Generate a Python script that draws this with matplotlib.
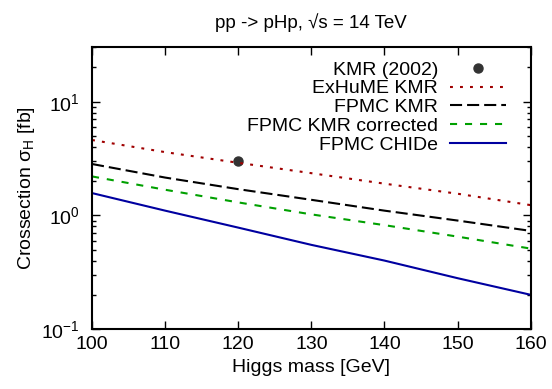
import matplotlib
matplotlib.use('Agg')
import matplotlib.pyplot as plt
import numpy as np

plt.rcParams['font.family'] = ['Liberation Sans', 'DejaVu Sans']
plt.rcParams['mathtext.fontset'] = 'custom'
plt.rcParams['mathtext.rm'] = 'Liberation Sans'
plt.rcParams['mathtext.it'] = 'Liberation Sans'
plt.rcParams['axes.unicode_minus'] = False

# data
mass = [100, 110, 120, 130, 140, 150, 160]
exhume_kmr = [4.6, 3.6, 2.9, 2.35, 1.9, 1.55, 1.23]
fpmc_kmr = [2.83, 2.15, 1.7, 1.37, 1.1, 0.9, 0.73]
fpmc_kmr_corr = [2.2, 1.68, 1.3, 1.02, 0.82, 0.65, 0.51]
fpmc_chide = [1.57, 1.1, 0.78, 0.55, 0.4, 0.28, 0.20]
kmr_mass = [120]
kmr_xsec = [3.0]

fs = 14
fig = plt.figure(figsize=(5.52, 3.89), dpi=100)
ax = fig.add_axes([0.1667, 0.1542, 0.7947, 0.7238])

ax.plot(kmr_mass, kmr_xsec, 'o', color='#333333', markersize=6.5, label='KMR (2002)')
ax.plot(mass, exhume_kmr, color='#a00000', lw=1.5, linestyle=(0, (1.4, 3.4)), label='ExHuME KMR')
ax.plot(mass, fpmc_kmr, color='black', lw=1.5, linestyle=(0, (5.8, 2.4)), label='FPMC KMR')
ax.plot(mass, fpmc_kmr_corr, color='#00a000', lw=1.5, linestyle=(0, (3.4, 3.8)), label='FPMC KMR corrected')
ax.plot(mass, fpmc_chide, color='#0000a0', lw=1.5, label='FPMC CHIDe')

ax.set_yscale('log')
ax.set_xlim(100, 160)
ax.set_ylim(0.1, 30)
ax.set_xticks([100, 110, 120, 130, 140, 150, 160])

for s in ax.spines.values():
    s.set_linewidth(1.5)
ax.tick_params(which='both', direction='in', top=True, right=True, labelsize=fs, width=1.0)
ax.tick_params(which='major', length=6)
ax.tick_params(which='minor', length=3, top=False)
ax.tick_params(axis='x', pad=5)
ax.tick_params(axis='y', pad=9)

ax.set_xlabel('Higgs mass [GeV]', fontsize=fs, labelpad=4)
ax.set_ylabel(r'Crossection $\sigma_\mathregular{H}$ [fb]', fontsize=fs, labelpad=3)
ax.set_title('pp -> pHp, \u221as = 14 TeV', fontsize=13.5, pad=14)

leg = ax.legend(loc='upper right', bbox_to_anchor=(0.9437, 0.952), frameon=False,
                markerfirst=False, fontsize=fs, handlelength=2.9, handletextpad=0.6,
                labelspacing=0.06, borderpad=0, borderaxespad=0, numpoints=1)
for t in leg.get_texts():
    t.set_ha('right')
leg._legend_box.align = 'right'

fig.savefig('out.png', dpi=100)
